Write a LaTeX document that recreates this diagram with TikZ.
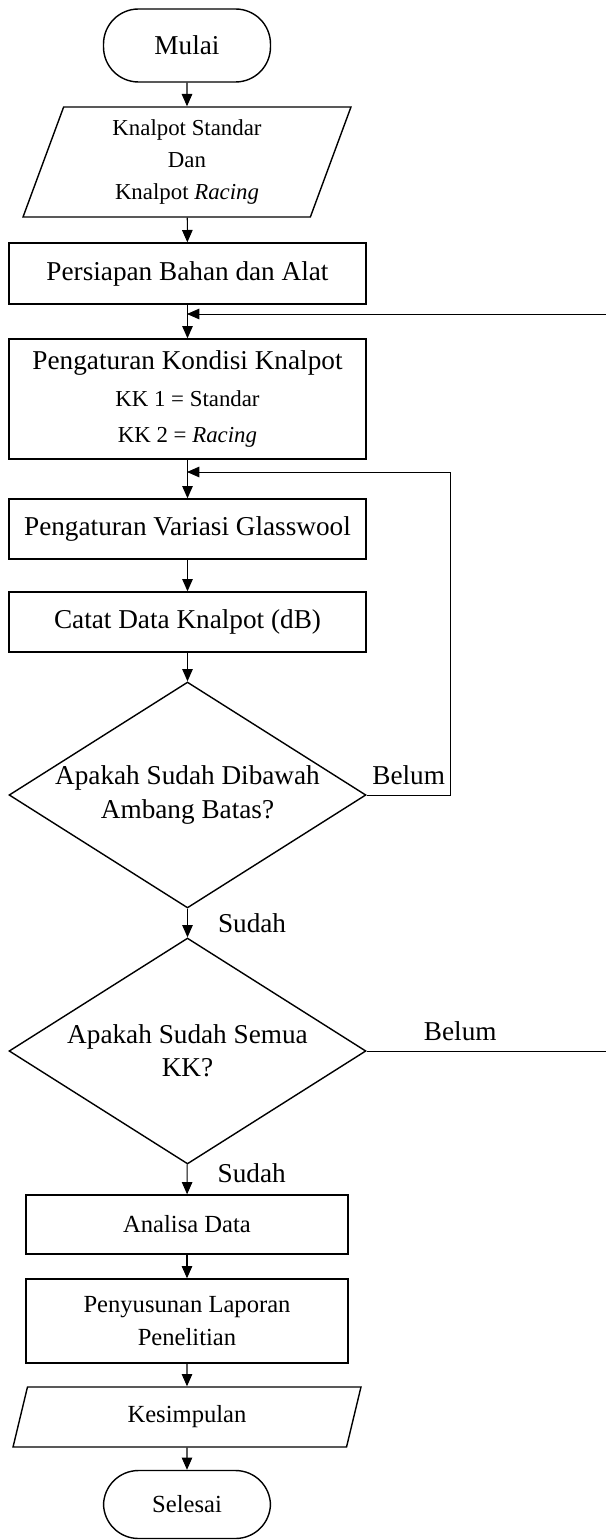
\documentclass[tikz,border=0pt]{standalone}
\usepackage{fontspec}
\setmainfont{Liberation Serif}
\usetikzlibrary{
    shapes.geometric,
    positioning,
    arrows.meta
}
\tikzset{
    >={Triangle[length=7pt,width=6pt]},
    terminal/.style={
        draw, line width=0.8pt,
        rectangle, rounded corners=0.7cm,
        minimum width=3.34cm,
        font=\fontsize{15.5}{20}\selectfont
    },
    proses/.style={
        draw, line width=0.8pt,
        rectangle, align=center,
        minimum width=7.14cm, minimum height=1.2cm,
        font=\fontsize{15.5}{20.5}\selectfont
    },
    data/.style={
        draw, line width=0.8pt,
        trapezium, trapezium left angle=67, trapezium right angle=113,
        trapezium stretches body, align=center
    },
    keputusan/.style={
        draw, line width=0.8pt,
        diamond, inner sep=0pt,
        minimum width=7.14cm, minimum height=4.52cm
    },
    tanya/.style={
        align=center, inner sep=0pt,
        font=\fontsize{15.5}{19}\selectfont
    },
    ket/.style={
        inner sep=0pt,
        font=\fontsize{15.5}{18}\selectfont
    },
    alur/.style={->, line width=0.6pt},
    balik/.style={->, line width=0.5pt}
}

\begin{document}
\begin{tikzpicture}[
    x=0.02cm, y=-0.02cm
]
    \useasboundingbox (0,0) rectangle (605,1540);

    % Simpul
    \node[terminal, minimum height=1.46cm] (mulai) at (187,45.5) {Mulai};
    \node[data, minimum width=6.56cm, minimum height=2.2cm,
          font=\fontsize{13}{18}\selectfont] (masuk) at (187,162)
        {Knalpot Standar\\Dan\\Knalpot \textit{Racing}};
    \node[proses, minimum height=1.22cm] (siap) at (187.5,273.5)
        {Persiapan Bahan dan Alat};
    \node[proses, minimum height=2.4cm] (kondisi) at (187.5,399)
        {Pengaturan Kondisi Knalpot\\
         {\fontsize{13}{20.5}\selectfont KK 1 = Standar}\\
         {\fontsize{13}{20.5}\selectfont KK 2 = \textit{Racing}}};
    \node[proses] (variasi) at (187.5,529) {Pengaturan Variasi Glasswool};
    \node[proses] (catat) at (187.5,622) {Catat Data Knalpot (dB)};
    \node[keputusan, label={[tanya]center:Apakah Sudah Dibawah\\Ambang Batas?}]
        (cek1) at (187.5,795) {};
    \node[keputusan, label={[tanya]center:Apakah Sudah Semua\\KK?}]
        (cek2) at (187.5,1051) {};
    \node[proses, minimum width=6.44cm, minimum height=1.18cm,
          font=\fontsize{14}{19}\selectfont] (analisa) at (187,1224.5) {Analisa Data};
    \node[proses, minimum width=6.44cm, minimum height=1.68cm,
          font=\fontsize{14}{19}\selectfont] (laporan) at (187,1321)
        {Penyusunan Laporan\\Penelitian};
    \node[data, minimum width=6.96cm, minimum height=1.2cm,
          font=\fontsize{14}{19}\selectfont] (hasil) at (187,1417) {Kesimpulan};
    \node[terminal, minimum height=1.36cm,
          font=\fontsize{14}{19}\selectfont] (selesai) at (187,1504.5) {Selesai};

    \coordinate (balik1) at (187,472);
    \coordinate (balik2) at (187,314);

    % Alur
    \draw[alur] (mulai) -- (masuk);
    \draw[alur] (masuk) -- (siap);
    \draw[alur] (siap) -- (kondisi);
    \draw[alur] (kondisi) -- (variasi);
    \draw[alur] (variasi) -- (catat);
    \draw[alur] (catat) -- (cek1);
    \draw[alur] (cek1) -- node[ket, right=0.6cm] {Sudah} (cek2);
    \draw[alur] (cek2) -- node[ket, pos=0.3, right=0.6cm] {Sudah} (analisa);
    \draw[alur] (analisa) -- (laporan);
    \draw[alur] (laporan) -- (hasil);
    \draw[alur] (hasil) -- (selesai);

    % Kembali
    \draw[balik] (cek1.east) -- node[ket, above=0.2cm] {Belum} ++(84,0) |- (balik1);
    \draw[balik] (cek2.east) -- node[ket, pos=0.36, above=0.2cm] {Belum} ++(260,0)
        |- (balik2);

\end{tikzpicture}
\end{document}
